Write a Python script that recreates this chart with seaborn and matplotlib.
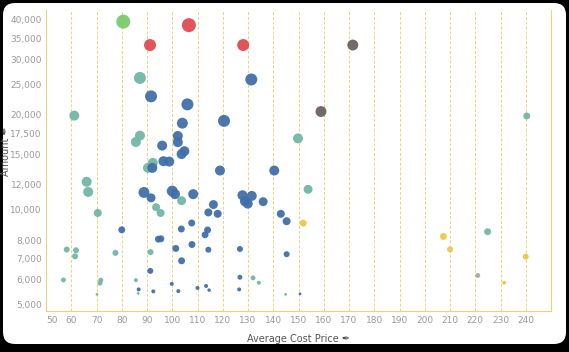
import numpy as np
import pandas as pd
import seaborn as sns
import matplotlib.pyplot as plt
from matplotlib.patches import FancyBboxPatch
from matplotlib.transforms import IdentityTransform
from matplotlib.ticker import FixedLocator, FuncFormatter, NullLocator

# Average cost price per product
avg_cost = [80.6, 106.6, 91.2, 128.1, 171.5, 87.2, 131.3, 91.6, 106.0, 61.2,
            120.5, 158.9, 149.8, 240.4, 104.0, 87.2, 85.6, 96.0, 102.2, 102.2,
            103.7, 104.8, 96.5, 98.8, 92.3, 90.4, 92.1, 118.9, 140.4, 66.1,
            66.7, 88.8, 91.6, 100.0, 101.1, 103.7, 108.3, 127.8, 131.5, 128.8,
            129.9, 136.0, 153.8, 93.6, 95.4, 70.5, 116.3, 114.3, 118.0, 143.0,
            145.3, 151.9, 80.0, 107.7, 103.6, 114.0, 113.0, 94.5, 95.5, 207.4,
            210.0, 224.9, 58.2, 61.9, 61.5, 77.5, 91.4, 101.4, 107.8, 114.3,
            126.8, 145.3, 103.7, 240.0, 91.3, 56.9, 71.7, 71.4, 70.2, 85.6,
            86.7, 86.5, 92.5, 99.8, 102.4, 110.0, 113.4, 114.6, 126.8, 126.5,
            132.0, 134.3, 144.9, 150.6, 221.0, 231.4]

# Amount per product
amount = [39500, 38500, 33300, 33300, 33300, 26200, 25900, 22900, 21600, 19900,
          19150, 20500, 16850, 19850, 18830, 17200, 16420, 15990, 17150, 16400,
          15030, 15350, 14270, 14230, 14100, 13590, 13590, 13330, 13330, 12280,
          11400, 11360, 10920, 11470, 11220, 10700, 11220, 11130, 11080, 10650,
          10470, 10620, 11620, 10200, 9780, 9780, 10400, 9820, 9720, 9720,
          9210, 9080, 8650, 9090, 8700, 8640, 8340, 8080, 8100, 8240,
          7500, 8530, 7490, 7450, 7130, 7310, 7350, 7550, 7770, 7480,
          7520, 7240, 6900, 7110, 6410, 6000, 5990, 5860, 5400, 5990,
          5600, 5440, 5520, 5830, 5530, 5660, 5740, 5570, 6120, 5600,
          6090, 5880, 5400, 5420, 6200, 5880]

# Quantity (bubble size)
quantity = [49, 49, 36, 36, 30, 36, 36, 36, 36, 25,
            36, 30, 25, 12, 30, 25, 25, 25, 25, 25,
            25, 25, 25, 25, 25, 25, 25, 25, 25, 25,
            25, 30, 20, 30, 25, 20, 25, 25, 25, 25,
            25, 20, 20, 16, 16, 16, 20, 16, 16, 16,
            16, 12, 12, 12, 12, 12, 12, 12, 12, 12,
            9, 12, 9, 9, 9, 9, 9, 12, 12, 9,
            9, 9, 12, 9, 9, 6, 6, 6, 2, 4,
            4, 2, 4, 4, 4, 4, 4, 3, 6, 4,
            6, 4, 2, 2, 6, 4]

# Category per product
segment = (['Green', 'Red', 'Red', 'Red', 'Charcoal', 'Teal', 'Blue', 'Blue', 'Blue', 'Teal',
            'Blue', 'Charcoal', 'Teal', 'Teal', 'Blue', 'Teal', 'Teal', 'Blue', 'Blue', 'Blue',
            'Blue', 'Blue', 'Blue', 'Blue', 'Teal', 'Teal', 'Blue', 'Blue', 'Blue', 'Teal',
            'Teal', 'Blue', 'Blue', 'Blue', 'Blue', 'Teal', 'Blue', 'Blue', 'Blue', 'Blue',
            'Blue', 'Blue', 'Teal', 'Teal', 'Teal', 'Teal', 'Blue', 'Blue', 'Blue', 'Blue',
            'Blue', 'Gold', 'Blue', 'Blue', 'Blue', 'Blue', 'Blue', 'Blue', 'Blue', 'Gold',
            'Gold', 'Teal', 'Teal', 'Teal', 'Teal', 'Teal', 'Teal', 'Blue', 'Blue', 'Blue',
            'Blue', 'Blue', 'Blue', 'Gold', 'Blue', 'Teal', 'Teal', 'Teal', 'Teal', 'Teal',
            'Blue', 'Teal', 'Blue', 'Blue', 'Blue', 'Blue', 'Blue', 'Blue', 'Blue', 'Blue',
            'Teal', 'Teal', 'Teal', 'Blue', 'Silver', 'Gold'])

palette = {'Blue': '#4170a8', 'Teal': '#72b7a7', 'Green': '#7acb6c', 'Red': '#e04b50',
           'Charcoal': '#6c6262', 'Gold': '#efc84a', 'Silver': '#a8a8a8'}

x_ticks = list(range(50, 250, 10))
y_ticks = [5000, 6000, 7000, 8000, 10000, 12000, 15000, 17500, 20000, 25000, 30000, 35000, 40000]

df = pd.DataFrame({'Average Cost Price': avg_cost, 'Amount': amount,
                   'Quantity': quantity, 'Segment': segment})

sns.set_style('white')
fig = plt.figure(figsize=(5.69, 3.52), dpi=100)
fig.patch.set_facecolor('black')

# white rounded card behind the plot
card = FancyBboxPatch((3 + 12, 8 + 12), 563 - 24, 341 - 24,
                      boxstyle='round,pad=12', transform=IdentityTransform(),
                      facecolor='white', edgecolor='none', zorder=-10)
fig.patches.append(card)

ax = fig.add_axes([46 / 569, 1 - 310.7 / 352, 505 / 569, 300.7 / 352])
ax.set_zorder(1)
ax.patch.set_visible(False)

sns.scatterplot(ax=ax, data=df, x='Average Cost Price', y='Amount',
                hue='Segment', palette=palette, size='Quantity',
                sizes=(4.1, 101.4), size_norm=(2, 49), legend=False,
                edgecolor='none', alpha=0.95, zorder=3)

ax.set_yscale('log')
ax.set_xlim(50, 250)
ax.set_ylim(4794, 43000)

grid_color = '#ecd27a'
for v in range(60, 250, 10):
    ax.axvline(v, color=grid_color, lw=0.7, ls=(0, (3, 2)), zorder=1)

ax.spines['top'].set_visible(False)
for side in ['left', 'right', 'bottom']:
    ax.spines[side].set_color(grid_color)
    ax.spines[side].set_linewidth(0.8)
    ax.spines[side].set_linestyle((0, (1, 1)))

ax.yaxis.set_major_locator(FixedLocator(y_ticks))
ax.yaxis.set_minor_locator(NullLocator())
ax.yaxis.set_major_formatter(FuncFormatter(lambda v, p: f'{int(v):,}'))
ax.set_xticks(x_ticks)
ax.tick_params(axis='both', length=0, labelsize=6.5, labelcolor='#9a9a9a')
ax.tick_params(axis='y', pad=3)
ax.tick_params(axis='x', pad=4)
ax.get_xticklabels()[0].set_horizontalalignment('left')

ax.set_xlabel('Average Cost Price \u2712', fontsize=7, color='#555555', labelpad=6)
ax.set_ylabel('Amount \u2712', fontsize=7, color='#555555')
ax.yaxis.set_label_coords(-0.07, 0.53)

fig.savefig('out.png', dpi=100, facecolor='black')
